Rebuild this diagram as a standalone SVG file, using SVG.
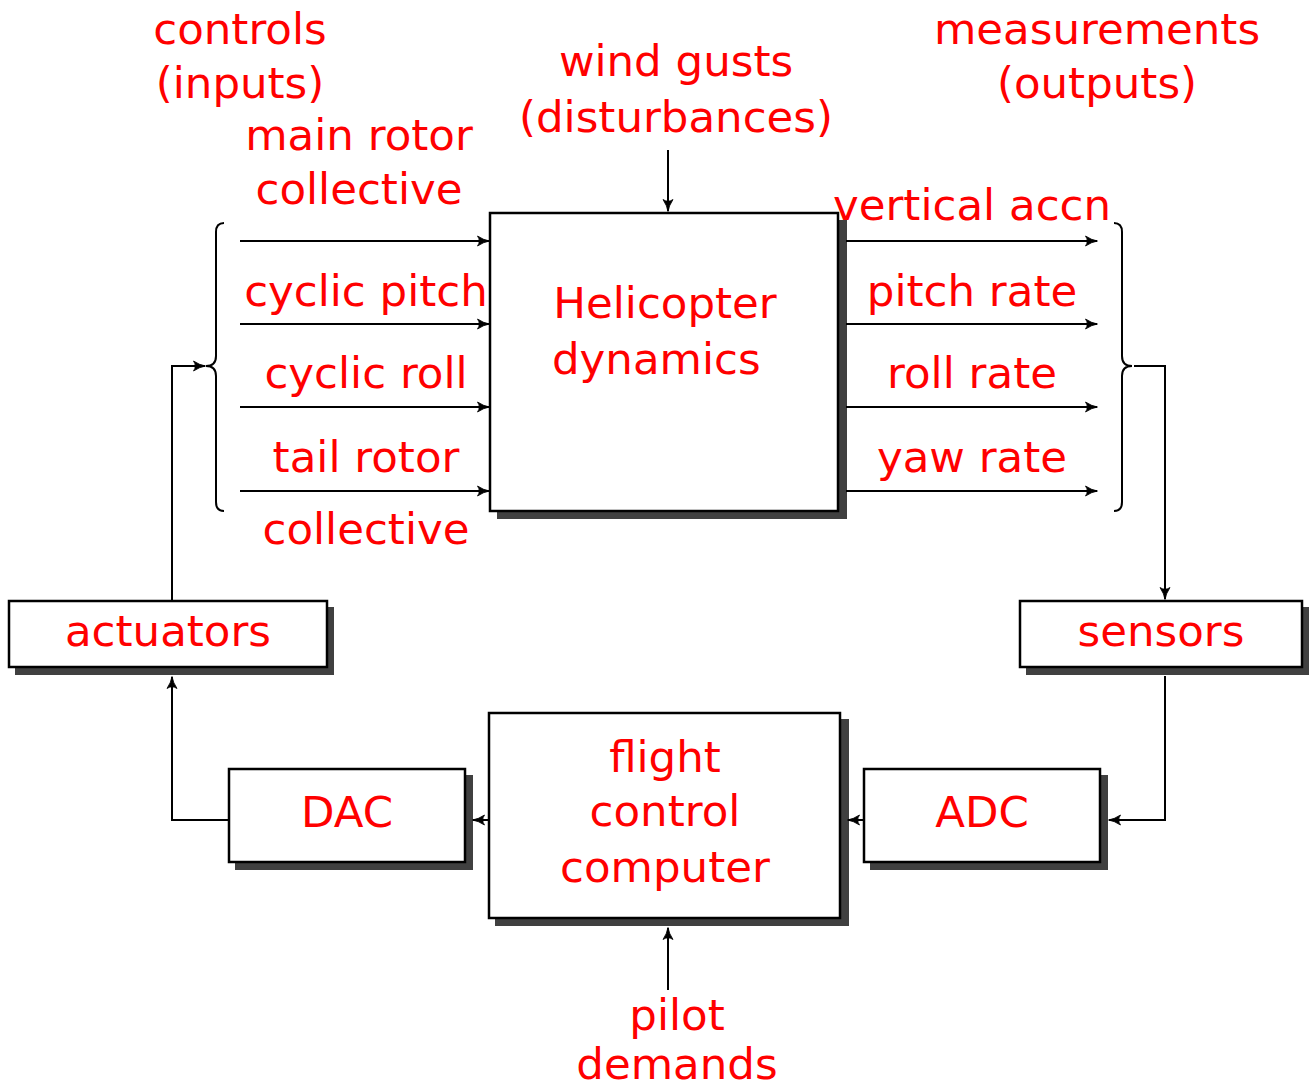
<svg xmlns="http://www.w3.org/2000/svg" width="1310" height="1088" viewBox="0 0 1310 1088">
<style>
.t{font-family:"DejaVu Sans","Liberation Sans",sans-serif;font-size:43.5px;fill:#ff0000;text-anchor:middle}
.box{fill:#fff;stroke:#000;stroke-width:2.5}
.sh{fill:#404040}
.ln{fill:none;stroke:#000;stroke-width:2}
</style>
<defs>
<marker id="ah" viewBox="0 0 12 10" refX="11.5" refY="5" markerWidth="12" markerHeight="10" markerUnits="userSpaceOnUse" orient="auto" overflow="visible">
<path d="M0,0 Q6,4 12,5 Q6,6 0,10 Q3.5,5 0,0Z" fill="#000" stroke="#000" stroke-width="0.8" stroke-linejoin="round"/>
</marker>
</defs>
<rect width="1310" height="1088" fill="#fff"/>
<g id="labels-top">
<text class="t" x="240" y="44">controls</text>
<text class="t" x="240" y="98">(inputs)</text>
<text class="t" x="676" y="76">wind gusts</text>
<text class="t" x="676" y="132">(disturbances)</text>
<text class="t" x="1097" y="44">measurements</text>
<text class="t" x="1097" y="98">(outputs)</text>
</g>
<g id="input-labels">
<text class="t" x="359" y="150">main rotor</text>
<text class="t" x="359" y="204">collective</text>
<text class="t" x="366" y="306">cyclic pitch</text>
<text class="t" x="366" y="388">cyclic roll</text>
<text class="t" x="366" y="472">tail rotor</text>
<text class="t" x="366" y="544">collective</text>
</g>
<g id="output-labels">
<text class="t" x="972" y="220">vertical accn</text>
<text class="t" x="972" y="306">pitch rate</text>
<text class="t" x="972" y="388">roll rate</text>
<text class="t" x="972" y="472">yaw rate</text>
</g>
<g id="helicopter">
<rect class="sh" x="497" y="220" width="350" height="299"/>
<rect class="box" x="490" y="213" width="348" height="298"/>
<text class="t" x="665" y="318">Helicopter</text>
<text class="t" x="552" y="374" style="text-anchor:start">dynamics</text>
</g>
<g id="actuators">
<rect class="sh" x="15" y="607" width="319" height="68"/>
<rect class="box" x="9" y="601" width="318" height="66"/>
<text class="t" x="168" y="646">actuators</text>
</g>
<g id="sensors">
<rect class="sh" x="1026" y="607" width="283" height="68"/>
<rect class="box" x="1020" y="601" width="282" height="66"/>
<text class="t" x="1161" y="646">sensors</text>
</g>
<g id="dac">
<rect class="sh" x="235" y="775" width="238" height="95"/>
<rect class="box" x="229" y="769" width="236" height="93"/>
<text class="t" x="347" y="827">DAC</text>
</g>
<g id="adc">
<rect class="sh" x="870" y="775" width="238" height="95"/>
<rect class="box" x="864" y="769" width="236" height="93"/>
<text class="t" x="982" y="827">ADC</text>
</g>
<g id="fcc">
<rect class="sh" x="495" y="719" width="354" height="207"/>
<rect class="box" x="489" y="713" width="351" height="205"/>
<text class="t" x="665" y="772">flight</text>
<text class="t" x="665" y="826">control</text>
<text class="t" x="665" y="882">computer</text>
</g>
<g id="pilot">
<text class="t" x="677" y="1030">pilot</text>
<text class="t" x="677" y="1079">demands</text>
</g>
<g id="connectors">
<path class="ln" d="M240,241H489" marker-end="url(#ah)"/>
<path class="ln" d="M240,324H489" marker-end="url(#ah)"/>
<path class="ln" d="M240,407H489" marker-end="url(#ah)"/>
<path class="ln" d="M240,491H489" marker-end="url(#ah)"/>
<path class="ln" d="M846,241H1097" marker-end="url(#ah)"/>
<path class="ln" d="M846,324H1097" marker-end="url(#ah)"/>
<path class="ln" d="M846,407H1097" marker-end="url(#ah)"/>
<path class="ln" d="M846,491H1097" marker-end="url(#ah)"/>
<path class="ln" d="M224,223Q216,223 216,232V356Q216,366 206,366Q216,366 216,376V502Q216,511 224,511"/>
<path class="ln" d="M1114,223Q1122,223 1122,232V356Q1122,366 1132,366Q1122,366 1122,376V502Q1122,511 1114,511"/>
<path class="ln" d="M172,601V366H205" marker-end="url(#ah)"/>
<path class="ln" d="M1134,366H1165V599" marker-end="url(#ah)"/>
<path class="ln" d="M1165,676V820H1109" marker-end="url(#ah)"/>
<path class="ln" d="M864,820H848" marker-end="url(#ah)"/>
<path class="ln" d="M489,820H473" marker-end="url(#ah)"/>
<path class="ln" d="M229,820H172V677" marker-end="url(#ah)"/>
<path class="ln" d="M668,990V928" marker-end="url(#ah)"/>
<path class="ln" d="M668,150V211" marker-end="url(#ah)"/>
</g>
</svg>
